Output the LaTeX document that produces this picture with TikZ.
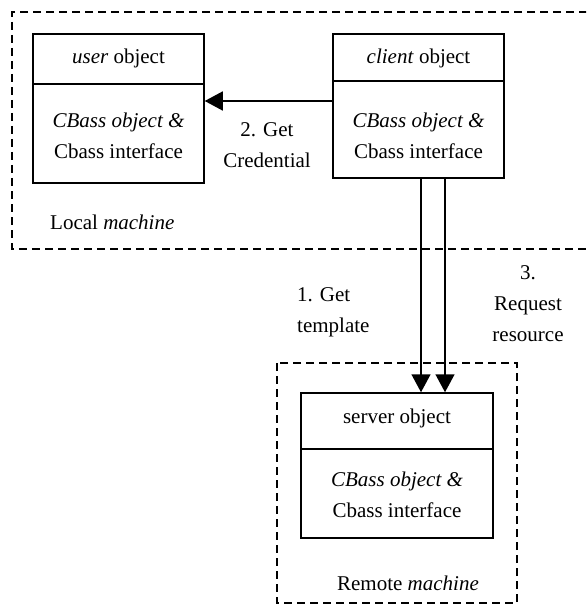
\documentclass[tikz,border=0pt]{standalone}
\usepackage{fontspec}
\setmainfont{Liberation Serif}
\usetikzlibrary{arrows.meta}
\begin{document}
\begin{tikzpicture}[x=1pt,y=-1pt,
  every node/.style={font=\fontsize{21}{31}\selectfont, inner sep=0pt},
  objbox/.style={draw, line width=1.5pt, rectangle},
  divider/.style={line width=1.5pt},
  machine/.style={draw, line width=1.2pt, dash pattern=on 8pt off 5pt},
  arr/.style={line width=1.5pt, -{Triangle[length=18pt,width=19pt]}},
  lbl/.style={align=center}
]
\clip (0,0) rectangle (586,604);

% machine boundaries
\draw[machine] (600,12) -- (12,12) -- (12,249) -- (600,249);
\draw[machine] (277,363) rectangle (517,603);

% object boxes
\node[objbox, minimum width=171pt, minimum height=149pt] (user) at (118.5,108.5) {};
\draw[divider] (33,84) -- (204,84);
\node (userhead) at (118.5,58) {\textit{user} object};
\node[lbl] (userbody) at (118.5,136) {\textit{CBass object \&}\\Cbass interface};

\node[objbox, minimum width=171pt, minimum height=144pt] (client) at (418.5,106) {};
\draw[divider] (333,81) -- (504,81);
\node (clienthead) at (418.5,58) {\textit{client} object};
\node[lbl] (clientbody) at (418.5,136) {\textit{CBass object \&}\\Cbass interface};

\node[objbox, minimum width=192pt, minimum height=145pt] (server) at (397,465.5) {};
\draw[divider] (301,449) -- (493,449);
\node (serverhead) at (397,418) {server object};
\node[lbl] (serverbody) at (397,495) {\textit{CBass object \&}\\Cbass interface};

% connectors
\draw[arr] (client.west |- 0,101) -- (user.east |- 0,101);
\draw[arr] (client.south -| 421,0) -- (server.north -| 421,0);
\draw[arr] (client.south -| 445,0) -- (server.north -| 445,0);

% labels
\node[lbl] (getcred) at (267,145.5) {2. Get\\Credential};
\node[align=left, anchor=west] (gettmpl) at (297,312) {1. Get\\template};
\node[lbl] (reqres) at (528,304) {3.\\Request\\resource};
\node[anchor=west] (local) at (50,222) {Local \textit{machine}};
\node (remote) at (408,583) {Remote \textit{machine}};
\end{tikzpicture}
\end{document}
